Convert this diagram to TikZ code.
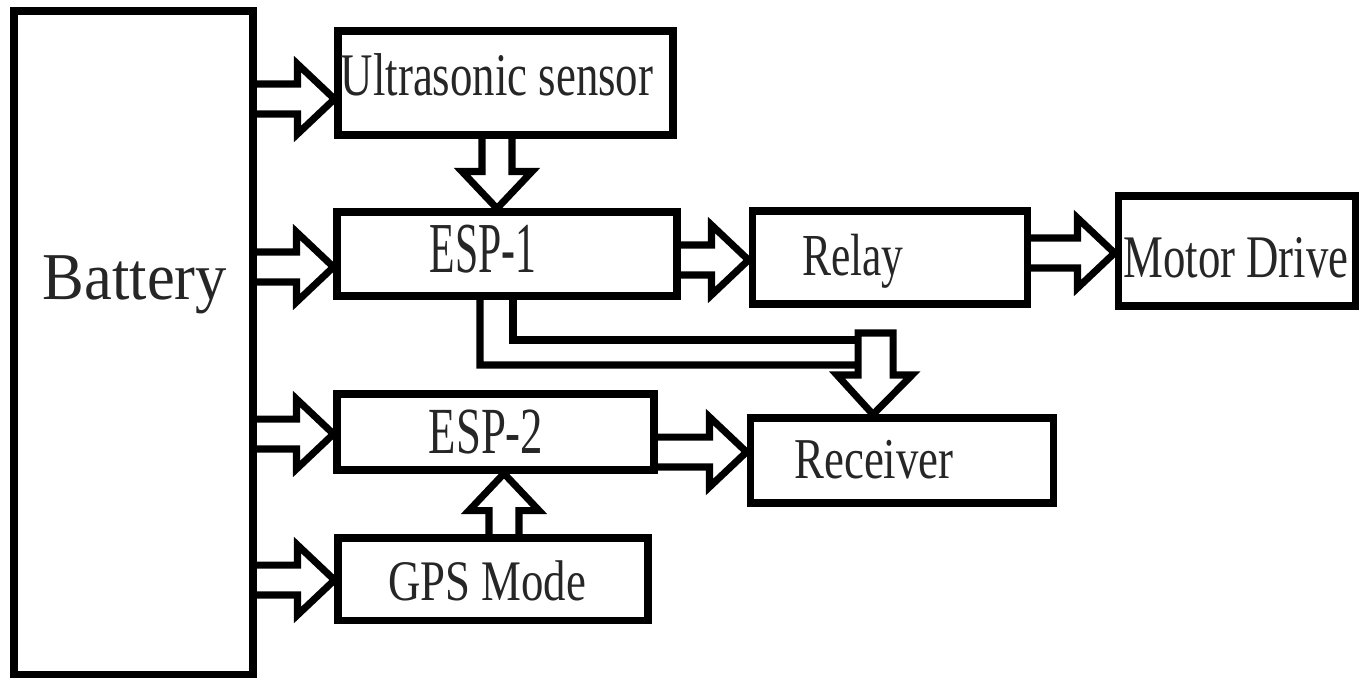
\documentclass[tikz,border=0pt]{standalone}
\usepackage{fontspec}
\setmainfont{Liberation Serif}
\usepackage{graphicx}
\usetikzlibrary{calc}

% hollow block arrow from #1 (tail) to #2 (tip)
\newcommand{\hollowarrow}[2]{%
  \coordinate (hb) at ($(#2)!0.74cm!(#1)$);
  \draw[arrline] ($(#1)!0.3cm!90:(#2)$) -- ($(hb)!0.3cm!90:(#2)$) -- ($(hb)!0.7cm!90:(#2)$)
    -- (#2) -- ($(hb)!0.7cm!-90:(#2)$) -- ($(hb)!0.3cm!-90:(#2)$) -- ($(#1)!0.3cm!-90:(#2)$);
}
\newcommand{\stretched}[3]{\scalebox{#1}[#2]{#3}}

\begin{document}
\begin{tikzpicture}[x=0.02cm, y=-0.02cm,
  blk/.style 2 args={draw, line width=4pt, inner sep=0pt,
    minimum width=#1*0.02cm, minimum height=#2*0.02cm},
  arrline/.style={line width=4pt},
  lbl/.style={anchor=base, inner sep=0pt, text=black!85,
    font=\fontsize{25.5}{30}\selectfont}]

\useasboundingbox (0,0) rectangle (1364,680);

% blocks
\node[blk={239}{663}] (battery) at (133.5,342.5) {};
\node[blk={335}{104}] (ultra) at (505.5,83) {};
\node[blk={340}{84}] (esp1) at (507,254) {};
\node[blk={275}{93}] (relay) at (889.5,257.5) {};
\node[blk={237}{110}] (motor) at (1236.5,251) {};
\node[blk={317}{76}] (esp2) at (495.5,432) {};
\node[blk={303}{85}] (receiver) at (901.5,460.5) {};
\node[blk={310}{82}] (gps) at (493,579) {};

% texts
\node[lbl, font=\fontsize{35.6}{40}\selectfont] (battery-t) at (135,299) {\stretched{1}{1.07}{Battery}};
\node[lbl] (ultra-t) at (497,95) {\stretched{1}{1.35}{Ultrasonic sensor}};
\node[lbl] (esp1-t) at (483,272) {\stretched{0.93}{1.6}{ESP-1}};
\node[lbl] (relay-t) at (853,275) {\stretched{0.97}{1.33}{Relay}};
\node[lbl] (motor-t) at (1236,277) {\stretched{1}{1.35}{Motor Drive}};
\node[lbl] (esp2-t) at (486,453) {\stretched{1}{1.47}{ESP-2}};
\node[lbl] (receiver-t) at (874,478) {\stretched{1}{1.29}{Receiver}};
\node[lbl] (gps-t) at (487,600) {\stretched{1}{1.28}{GPS Mode}};

% battery supply
\coordinate (s1) at (battery.east |- 0,99);
\coordinate (t1) at (ultra.west |- 0,99);
\coordinate (s2) at (battery.east |- 0,267);
\coordinate (t2) at (esp1.west |- 0,267);
\coordinate (s3) at (battery.east |- 0,434);
\coordinate (t3) at (esp2.west |- 0,434);
\coordinate (s4) at (battery.east |- 0,580);
\coordinate (t4) at (gps.west |- 0,580);
\hollowarrow{s1}{t1}
\hollowarrow{s2}{t2}
\hollowarrow{s3}{t3}
\hollowarrow{s4}{t4}

% signal path
\coordinate (u1) at (497,0 |- ultra.south);
\coordinate (u2) at (497,0 |- esp1.north);
\hollowarrow{u1}{u2}
\coordinate (g1) at (504,0 |- gps.north);
\coordinate (g2) at (504,0 |- esp2.south);
\hollowarrow{g1}{g2}
\coordinate (e1) at (esp1.east |- 0,260);
\coordinate (e2) at (relay.west |- 0,260);
\hollowarrow{e1}{e2}
\coordinate (r1) at (relay.east |- 0,253);
\coordinate (r2) at (motor.west |- 0,253);
\hollowarrow{r1}{r2}
\coordinate (p1) at (esp2.east |- 0,452);
\coordinate (p2) at (receiver.west |- 0,452);
\hollowarrow{p1}{p2}

% ESP-1 to receiver
\coordinate (ra) at (480,0 |- esp1.south);
\coordinate (rb) at (513,0 |- esp1.south);
\coordinate (rt) at (873,0 |- receiver.north);
\draw[arrline] (ra) |- (858,365) -- (858,375) -- (837,375) -- (rt) -- (912,375)
  -- (893,375) -- (893,333) -- (858,333) -- (858,365);
\draw[arrline] (rb) |- (858,340);

\end{tikzpicture}
\end{document}
